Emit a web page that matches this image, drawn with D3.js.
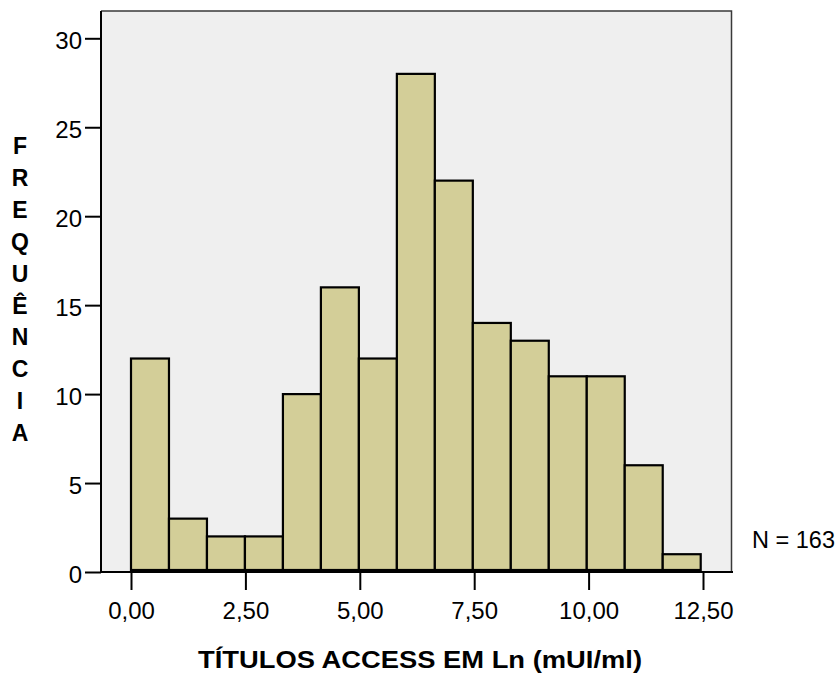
<!DOCTYPE html>
<html>
<head>
<meta charset="utf-8">
<script src="https://cdn.jsdelivr.net/npm/d3@7"></script>
<style>
  html, body { margin: 0; padding: 0; background: #ffffff; }
  svg { display: block; }
  text { font-family: "Liberation Sans", Arial, sans-serif; fill: #000; }
</style>
</head>
<body>
<svg id="chart" width="837" height="675"></svg>
<script>
// Histogram bins (lower/upper edges, Ln units) and counts per bin
const binEdges = [0.00, 0.83, 1.66, 2.49, 3.32, 4.15, 4.98, 5.81, 6.64, 7.47, 8.30, 9.13, 9.96, 10.79, 11.62, 12.45];
const frequencies = [12, 3, 2, 2, 10, 16, 12, 28, 22, 14, 13, 11, 11, 6, 1];
const xTickValues = [0, 2.5, 5, 7.5, 10, 12.5];
const yTickValues = [0, 5, 10, 15, 20, 25, 30];
const yLabelLetters = ["F", "R", "E", "Q", "U", "Ê", "N", "C", "I", "A"];
const xTitle = "TÍTULOS ACCESS EM Ln (mUI/ml)";
const sampleSize = 163;

const svg = d3.select("#chart");

// plot frame
const frame = { left: 101, right: 731.5, top: 11, bottom: 572 };

const x = d3.scaleLinear().domain([0, 12.5]).range([131, 703]);
const y = d3.scaleLinear().domain([0, 30]).range([572, 38.3]);

const bins = frequencies.map((f, i) => ({ x0: binEdges[i], x1: binEdges[i + 1], count: f }));

// background
svg.append("rect")
  .attr("x", frame.left).attr("y", frame.top)
  .attr("width", frame.right - frame.left).attr("height", frame.bottom - frame.top)
  .attr("fill", "#efefef");

// top and right border
svg.append("path")
  .attr("d", `M${frame.left},${frame.top}H${frame.right}V${frame.bottom}`)
  .attr("fill", "none").attr("stroke", "#3a3a3a").attr("stroke-width", 1.5);

// bars
svg.append("g").selectAll("rect")
  .data(bins)
  .join("rect")
  .attr("x", d => x(d.x0))
  .attr("y", d => y(d.count))
  .attr("width", d => x(d.x1) - x(d.x0))
  .attr("height", d => y(0) - y(d.count) - 2)
  .attr("fill", "#d3ce98")
  .attr("stroke", "#000")
  .attr("stroke-width", 2.2);

// y axis
const yAxis = d3.axisLeft(y).tickValues(yTickValues).tickSize(16).tickPadding(3).tickFormat(d3.format("d"));
const gy = svg.append("g").attr("transform", `translate(${frame.left},0)`).call(yAxis);
gy.select(".domain").remove();
gy.selectAll(".tick line").attr("stroke", "#000").attr("stroke-width", 2);
gy.selectAll(".tick text").attr("font-size", 24).attr("dy", "0.42em")
  .style("font-family", '"Liberation Sans", Arial, sans-serif');
svg.append("line")
  .attr("x1", frame.left).attr("x2", frame.left)
  .attr("y1", frame.top).attr("y2", frame.bottom + 1)
  .attr("stroke", "#000").attr("stroke-width", 2);

// x axis
const xAxis = d3.axisBottom(x).tickValues(xTickValues).tickSize(18).tickPadding(12)
  .tickFormat(d => d3.format(".2f")(d).replace(".", ","));
const gx = svg.append("g").attr("transform", `translate(0,${frame.bottom})`).call(xAxis);
gx.select(".domain").remove();
gx.selectAll(".tick line").attr("stroke", "#000").attr("stroke-width", 2);
gx.selectAll(".tick text").attr("font-size", 24)
  .style("font-family", '"Liberation Sans", Arial, sans-serif');
svg.append("line")
  .attr("x1", frame.left).attr("x2", frame.right + 1.5)
  .attr("y1", frame.bottom).attr("y2", frame.bottom)
  .attr("stroke", "#000").attr("stroke-width", 2);

// stacked y label
svg.append("g").selectAll("text")
  .data(yLabelLetters)
  .join("text")
  .attr("x", 20)
  .attr("y", (d, i) => 154 + i * 31.9)
  .attr("text-anchor", "middle")
  .attr("font-size", 23)
  .attr("font-weight", "bold")
  .text(d => d);

// x title
svg.append("text")
  .attr("x", 198).attr("y", 668)
  .attr("font-size", 23.5)
  .attr("font-weight", "bold")
  .attr("textLength", 444)
  .attr("lengthAdjust", "spacingAndGlyphs")
  .text(xTitle);

// sample size
svg.append("text")
  .attr("x", 752).attr("y", 548)
  .attr("font-size", 23.5)
  .text(`N = ${sampleSize}`);
</script>
</body>
</html>
